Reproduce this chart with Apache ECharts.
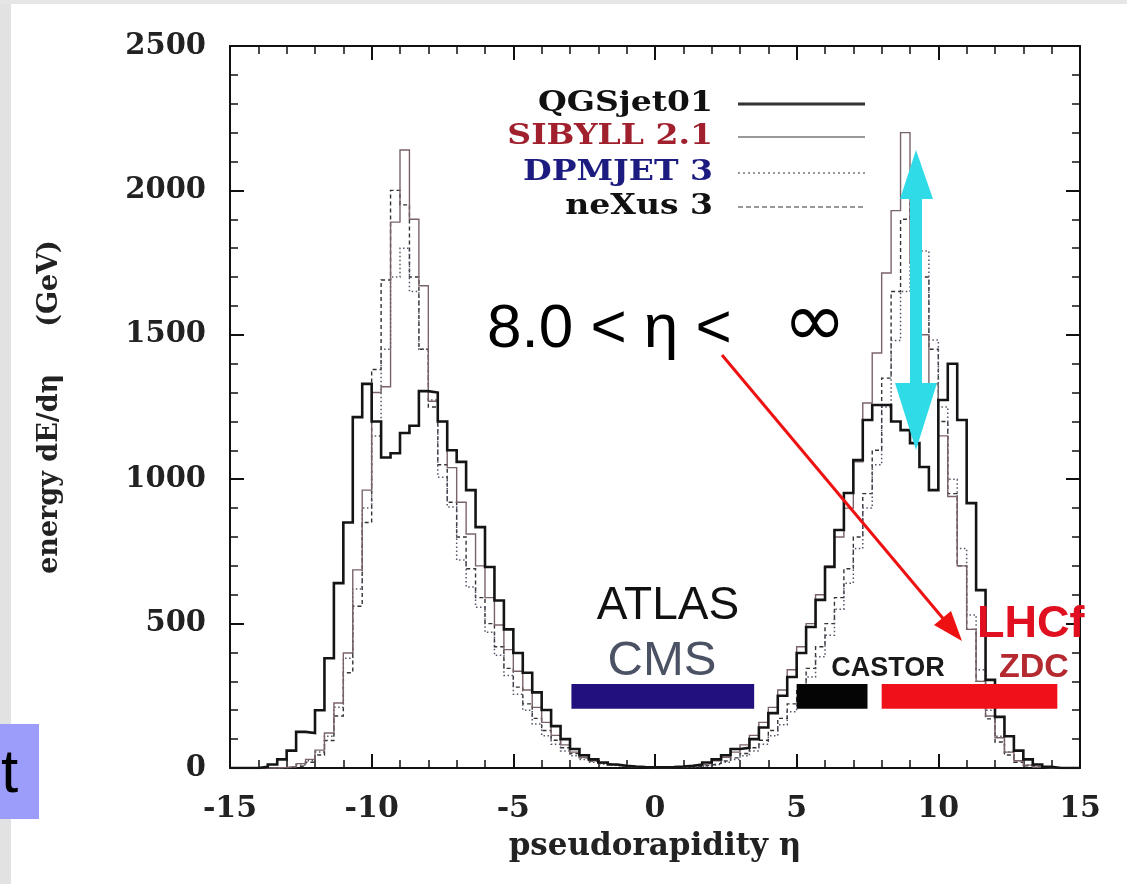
<!DOCTYPE html>
<html>
<head>
<meta charset="utf-8">
<script src="https://cdn.jsdelivr.net/npm/echarts@6/dist/echarts.min.js"></script>
<style>
  html, body { margin: 0; padding: 0; background: #ffffff; }
  #chart { width: 1127px; height: 884px; }
</style>
</head>
<body>
<div id="chart"></div>
<script>
// Energy flow dE/dη per bin of pseudorapidity (bins of 1/3 unit from -15 to 15), in GeV.
const ETA_MIN = -15;
const ETA_MAX = 15;
const BIN_WIDTH = 1 / 3;

const seriesNames = ['QGSjet01', 'SIBYLL 2.1', 'DPMJET 3', 'neXus 3'];

const qgsjet01 = [
  0, 0, 0, 4, 12, 30, 60, 125, 121, 200,
  380, 640, 850, 1215, 1330, 1200, 1075, 1090, 1160, 1185,
  1305, 1300, 1200, 1100, 1060, 962, 834, 696, 580, 480,
  398, 330, 262, 201, 145, 100, 66, 44, 30, 19,
  12, 8, 5, 3, 2, 2, 3, 5, 8, 12,
  19, 30, 44, 66, 70, 100, 140, 190, 250, 315,
  398, 488, 582, 696, 824, 952, 1066, 1205, 1257, 1257,
  1200, 1170, 1125, 1042, 962, 1274, 1400, 1205, 917, 616,
  305, 177, 110, 60, 30, 12, 4, 0, 0, 0
];

const sibyll21 = [
  0, 0, 0, 0, 0, 2, 5, 15, 30, 62,
  121, 225, 398, 686, 962, 1300, 1320, 1890, 2140, 1900,
  1670, 1270, 1200, 1040, 920, 810, 700, 590, 495, 410,
  335, 270, 210, 158, 113, 80, 55, 37, 25, 16,
  10, 6, 4, 2, 1, 1, 2, 4, 6, 10,
  16, 25, 37, 55, 80, 113, 158, 210, 270, 340,
  420, 500, 600, 700, 800, 900, 1060, 1264, 1437, 1714,
  1930, 2200, 1750, 1500, 1330, 1150, 940, 700, 480, 300,
  180, 105, 55, 25, 10, 3, 0, 0, 0, 0
];

const dpmjet3 = [
  0, 0, 0, 0, 0, 0, 3, 10, 25, 55,
  110, 210, 380, 620, 900, 1150, 1450, 1700, 1800, 1650,
  1450, 1274, 1007, 904, 720, 627, 557, 470, 390, 320,
  255, 200, 152, 112, 82, 59, 42, 29, 20, 13,
  8, 5, 3, 2, 1, 1, 1, 2, 3, 5,
  8, 13, 20, 29, 42, 59, 82, 112, 150, 195,
  250, 315, 385, 460, 550, 640, 760, 900, 1050, 1250,
  1480, 1650, 1750, 1790, 1482, 1250, 1000, 760, 530, 340,
  200, 110, 55, 25, 10, 3, 0, 0, 0, 0
];

const nexus3 = [
  0, 0, 0, 0, 0, 0, 3, 8, 20, 45,
  95, 180, 330, 560, 850, 1380, 1690, 2000, 1950, 1700,
  1450, 1250, 1050, 920, 800, 690, 590, 500, 420, 345,
  280, 222, 172, 130, 96, 70, 50, 35, 24, 16,
  10, 6, 4, 2, 1, 1, 1, 2, 4, 6,
  10, 16, 24, 35, 50, 70, 96, 130, 172, 222,
  280, 345, 420, 500, 590, 690, 800, 950, 1100, 1350,
  1650, 1900, 1956, 1700, 1450, 1200, 950, 700, 480, 300,
  170, 90, 45, 20, 8, 2, 0, 0, 0, 0
];

// Pseudorapidity coverage of the central and forward detectors.
const detectorNames = ['ATLAS / CMS', 'CASTOR', 'LHCf / ZDC'];
const detectorFrom = [-2.95, 5.0, 8.0];
const detectorTo = [3.5, 7.5, 14.2];

const xTicks = [-15, -10, -5, 0, 5, 10, 15];
const yTicks = [0, 500, 1000, 1500, 2000, 2500];

// Histogram outline: one point at each lower bin edge, closed at the upper edge.
function histogramPoints(values) {
  const pts = values.map((v, i) => [ETA_MIN + i * BIN_WIDTH, v]);
  pts.push([ETA_MAX, values[values.length - 1]]);
  return pts;
}

const SERIF = "'DejaVu Serif', 'Liberation Serif', serif";
const SANS = "'Liberation Sans', Arial, sans-serif";

const chart = echarts.init(document.getElementById('chart'));

const frameAxisCommon = {
  type: 'value',
  axisLine: { show: true, onZero: false, lineStyle: { color: '#111', width: 2 } },
  axisTick: { show: true, inside: true, length: 14, lineStyle: { color: '#111', width: 2 } },
  minorTick: { show: true, splitNumber: 5, length: 8, lineStyle: { color: '#111', width: 1.5 } },
  splitLine: { show: false },
  minorSplitLine: { show: false }
};

const lineStyles = [
  { color: '#141414', width: 2.6, type: 'solid' },
  { color: '#7a6368', width: 1.4, type: 'solid' },
  { color: '#55556a', width: 1.5, type: [1.5, 2.5] },
  { color: '#333333', width: 1.4, type: [4, 3] }
];
const seriesValues = [qgsjet01, sibyll21, dpmjet3, nexus3];

const histogramSeries = seriesValues.map((vals, k) => ({
  name: seriesNames[k],
  type: 'line',
  step: 'end',
  showSymbol: false,
  symbol: 'none',
  animation: false,
  z: 4 - k,
  lineStyle: Object.assign({ cap: 'butt', join: 'miter' }, lineStyles[k]),
  data: histogramPoints(vals)
}));

const BAND_LOW = 205;   // GeV, lower edge of the coverage bars
const BAND_HIGH = 291;  // GeV, upper edge of the coverage bars
const bandColors = ['#21107d', '#050505', '#f0101a'];

const detectorSeries = {
  name: 'coverage',
  type: 'custom',
  animation: false,
  z: 8,
  data: detectorFrom.map((f, i) => [f, detectorTo[i]]),
  encode: { x: [0, 1] },
  renderItem: function (params, api) {
    const a = api.coord([api.value(0), BAND_HIGH]);
    const b = api.coord([api.value(1), BAND_LOW]);
    return {
      type: 'rect',
      shape: { x: a[0], y: a[1], width: b[0] - a[0], height: b[1] - a[1] },
      style: { fill: bandColors[params.dataIndex] }
    };
  }
};

// Legend rows: right-aligned model names, line samples to the right.
const legendColors = ['#111', '#a0202e', '#1c1c80', '#111'];
const legendRowsY = [104, 137, 173, 207];
const legendGraphics = [];
seriesNames.forEach((name, k) => {
  legendGraphics.push({
    type: 'text', x: 713, y: legendRowsY[k], scaleX: 1.18, z: 20,
    style: { text: name, font: "bold 28px " + SERIF, fill: legendColors[k], align: 'right', verticalAlign: 'middle' }
  });
  legendGraphics.push({
    type: 'line', z: 20,
    shape: { x1: 738, y1: legendRowsY[k], x2: 865, y2: legendRowsY[k] },
    style: { stroke: k === 0 ? '#333' : '#777', lineWidth: k === 0 ? 3 : 1.6,
             lineDash: k === 2 ? [2, 3] : (k === 3 ? [5, 3] : null) }
  });
});

chart.setOption({
  backgroundColor: '#ffffff',
  animation: false,
  grid: { left: 230, right: 47, top: 46, bottom: 116, containLabel: false },
  xAxis: [
    Object.assign({}, frameAxisCommon, {
      min: ETA_MIN, max: ETA_MAX, interval: 5, position: 'bottom',
      name: 'pseudorapidity η', nameLocation: 'middle', nameGap: 63,
      nameTextStyle: { fontFamily: SERIF, fontWeight: 'bold', fontSize: 31, color: '#222', verticalAlign: 'top' },
      axisLabel: { show: true, margin: 26, fontFamily: SERIF, fontWeight: 'bold', fontSize: 30, color: '#222',
                   formatter: v => xTicks.includes(v) ? String(v) : '' }
    }),
    Object.assign({}, frameAxisCommon, {
      min: ETA_MIN, max: ETA_MAX, interval: 5, position: 'top', axisLabel: { show: false }
    })
  ],
  yAxis: [
    Object.assign({}, frameAxisCommon, {
      min: 0, max: 2500, interval: 500, position: 'left',
      name: 'energy dE/dη     (GeV)', nameLocation: 'middle', nameGap: 167,
      nameTextStyle: { fontFamily: SERIF, fontWeight: 'bold', fontSize: 27, color: '#222' },
      axisLabel: { show: true, margin: 24, fontFamily: SERIF, fontWeight: 'bold', fontSize: 29, color: '#222',
                   formatter: v => yTicks.includes(v) ? String(v) : '' }
    }),
    Object.assign({}, frameAxisCommon, {
      min: 0, max: 2500, interval: 500, position: 'right', axisLabel: { show: false }
    })
  ],
  series: histogramSeries.concat([detectorSeries]),
  graphic: [
    // slide border and the tab at the lower left
    { type: 'rect', z: 1, shape: { x: 0, y: 0, width: 11, height: 884 }, style: { fill: '#e2e2e2' } },
    { type: 'rect', z: 1, shape: { x: 0, y: 0, width: 1127, height: 4 }, style: { fill: '#e6e6e6' } },
    { type: 'rect', z: 2, shape: { x: 0, y: 724, width: 39, height: 95 }, style: { fill: '#9c9cfb' } },
    { type: 'text', z: 3, x: 1, y: 775, style: { text: 't', font: "62px " + SANS, fill: '#000', verticalAlign: 'middle' } },

    // range annotation and its pointer
    { type: 'text', z: 20, x: 487, y: 330, style: { text: '8.0 < η <', font: "62px " + SANS, fill: '#000', verticalAlign: 'middle' } },
    { type: 'text', z: 20, x: 783, y: 326, style: { text: '∞', font: "76px 'DejaVu Sans', sans-serif", fill: '#000', verticalAlign: 'middle' } },
    { type: 'line', z: 21, shape: { x1: 722, y1: 355, x2: 946, y2: 622 }, style: { stroke: '#ee1111', lineWidth: 3 } },
    { type: 'polygon', z: 21, shape: { points: [[962, 641], [934, 625], [951, 611]] }, style: { fill: '#ee1111' } },

    // spread between the model predictions
    { type: 'rect', z: 21, shape: { x: 910, y: 195, width: 12, height: 190 }, style: { fill: '#2fdbe6' } },
    { type: 'polygon', z: 21, shape: { points: [[916, 150], [900, 199], [933, 199]] }, style: { fill: '#2fdbe6' } },
    { type: 'polygon', z: 21, shape: { points: [[916, 450], [895, 383], [937, 383]] }, style: { fill: '#2fdbe6' } },

    // detector labels
    { type: 'text', z: 20, x: 668, y: 606, style: { text: 'ATLAS', font: "46px " + SANS, fill: '#111', align: 'center', verticalAlign: 'middle' } },
    { type: 'text', z: 20, x: 662, y: 661, style: { text: 'CMS', font: "49px " + SANS, fill: '#4b5263', align: 'center', verticalAlign: 'middle' } },
    { type: 'text', z: 20, x: 888, y: 669, style: { text: 'CASTOR', font: "bold 27px " + SANS, fill: '#1a1a1a', align: 'center', verticalAlign: 'middle' } },
    { type: 'text', z: 20, x: 977, y: 625, style: { text: 'LHCf', font: "bold 45px " + SANS, fill: '#e01020', align: 'left', verticalAlign: 'middle' } },
    { type: 'text', z: 20, x: 999, y: 668, style: { text: 'ZDC', font: "bold 34px " + SANS, fill: '#b52a30', align: 'left', verticalAlign: 'middle' } }
  ].concat(legendGraphics)
});
</script>
</body>
</html>
